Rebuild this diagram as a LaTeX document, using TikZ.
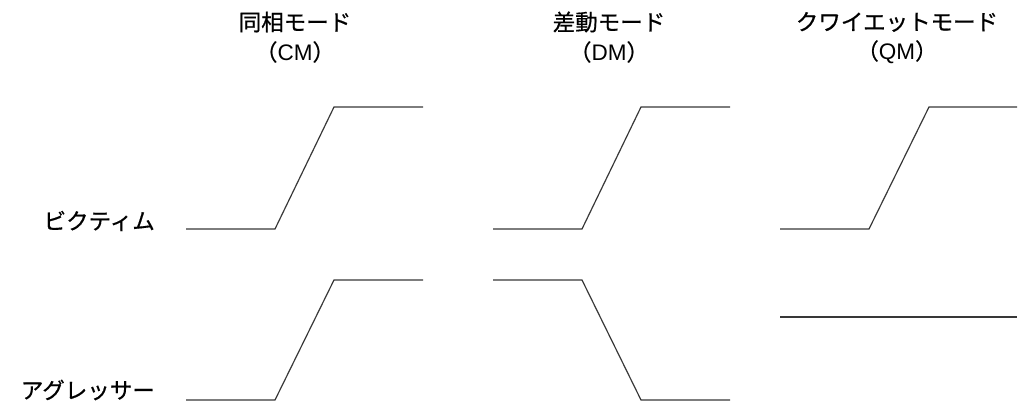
\documentclass[tikz,border=0pt]{standalone}
\usepackage{fontspec}
\setmainfont{Noto Sans CJK JP}[FakeBold=0.6]
\newfontfamily\lat{Liberation Sans}
\begin{document}
\begin{tikzpicture}[x=1pt,y=-1pt,
  wave/.style={line width=1.2pt, draw=black!78, line join=miter},
  lbl/.style={font=\fontsize{22.5}{26}\selectfont, inner sep=0pt, text=black},
  hdr/.style={font=\fontsize{22.5}{26}\selectfont, inner sep=0pt, text=black, align=center}]
\useasboundingbox (0,0) rectangle (1018,405);
% headers
\node[hdr] (cmh) at (295,22) {同相モード};
\node[hdr] (cms) at (295,52) {（{\lat CM}）};
\node[hdr] (dmh) at (609,22) {差動モード};
\node[hdr] (dms) at (609,52) {（{\lat DM}）};
\node[hdr] (qmh) at (897,22) {クワイエットモード};
\node[hdr] (qms) at (897,52) {（{\lat QM}）};
% row labels
\node[lbl, anchor=east] (vic) at (155,221) {ビクティム};
\node[lbl, anchor=east] (agg) at (155,390) {アグレッサー};
% CM
\draw[wave] (186,229) -- (275,229) -- (334,107) -- (423,107);
\draw[wave] (186,400) -- (275,400) -- (334,280) -- (423,280);
% DM
\draw[wave] (493,229) -- (582,229) -- (641,107) -- (730,107);
\draw[wave] (493,280) -- (582,280) -- (641,400) -- (730,400);
% QM
\draw[wave] (780,229) -- (869,229) -- (929,107) -- (1017,107);
\draw[wave] (780,317) -- (1017,317);
\end{tikzpicture}
\end{document}
